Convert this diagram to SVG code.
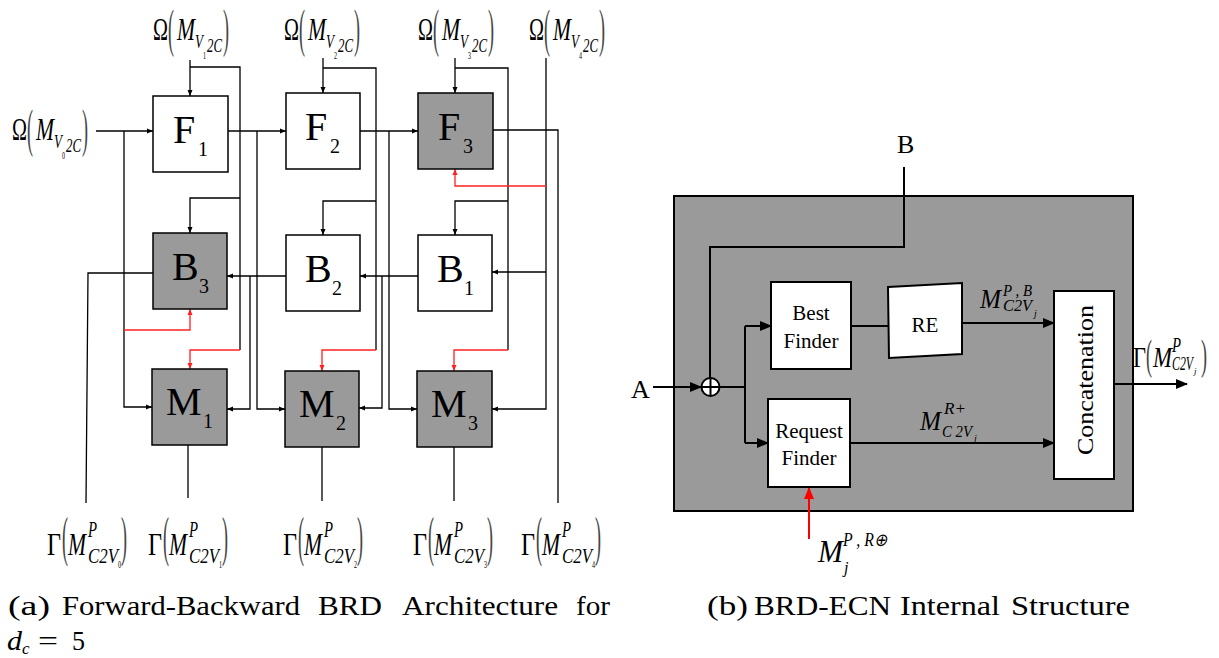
<svg xmlns="http://www.w3.org/2000/svg" width="1219" height="658" viewBox="0 0 1219 658">
<style>
.t{font-family:"Liberation Serif","Times New Roman",serif;fill:#000}
.i{font-style:italic}
.par{font-family:"Liberation Serif","Times New Roman",serif;fill:#444}
.bw{fill:#fff;stroke:#000;stroke-width:1.5}
.bg{fill:#9a9a9a;stroke:#000;stroke-width:1.5}
.w{fill:none;stroke:#000;stroke-width:1.3}
.r{fill:none;stroke:#ff2020;stroke-width:1.3}
.w2{fill:none;stroke:#000;stroke-width:2}
.r2{fill:none;stroke:#ff0000;stroke-width:2}
.bl{font-family:"Liberation Serif","Times New Roman",serif;font-size:40px}
.sb{font-family:"Liberation Serif","Times New Roman",serif;font-size:20px}
.cap{font-family:"Liberation Serif","Times New Roman",serif;font-size:27px}
</style>
<defs>
<marker id="ak" markerUnits="userSpaceOnUse" markerWidth="6" markerHeight="6" refX="6" refY="3" orient="auto"><path d="M0,0.5 L6,3 L0,5.5 z" fill="#000"/></marker>
<marker id="ar" markerUnits="userSpaceOnUse" markerWidth="6" markerHeight="6" refX="6" refY="3" orient="auto"><path d="M0,0.5 L6,3 L0,5.5 z" fill="#ff2020"/></marker>
<marker id="AK" markerUnits="userSpaceOnUse" markerWidth="12" markerHeight="12" refX="11" refY="6" orient="auto"><path d="M0,1 L12,6 L0,11 z" fill="#000"/></marker>
<marker id="AR" markerUnits="userSpaceOnUse" markerWidth="12" markerHeight="12" refX="11" refY="6" orient="auto"><path d="M0,1 L12,6 L0,11 z" fill="#ff0000"/></marker>
</defs>

<!-- ===== Left diagram (a) ===== -->
<g id="connectors-a">
<path class="w" d="M96,131 H153" marker-end="url(#ak)"/>
<path class="w" d="M124,131 V407 H152" marker-end="url(#ak)"/>
<path class="w" d="M228,131 H286" marker-end="url(#ak)"/>
<path class="w" d="M257,131 V409 H285" marker-end="url(#ak)"/>
<path class="w" d="M360,131 H418" marker-end="url(#ak)"/>
<path class="w" d="M389,131 V409 H417" marker-end="url(#ak)"/>
<path class="w" d="M493,130 H558 V503"/>
<path class="w" d="M190,60 V96" marker-end="url(#ak)"/>
<path class="w" d="M190,67 H240 V350"/>
<path class="w" d="M240,198 H190 V233" marker-end="url(#ak)"/>
<path class="w" d="M323,58 V93" marker-end="url(#ak)"/>
<path class="w" d="M323,68 H376 V350"/>
<path class="w" d="M376,201 H323 V235" marker-end="url(#ak)"/>
<path class="w" d="M455,58 V93" marker-end="url(#ak)"/>
<path class="w" d="M455,68 H508 V350"/>
<path class="w" d="M508,201 H455 V235" marker-end="url(#ak)"/>
<path class="w" d="M546,58 V409 H492" marker-end="url(#ak)"/>
<path class="w" d="M546,272 H492" marker-end="url(#ak)"/>
<path class="w" d="M418,276 H360" marker-end="url(#ak)"/>
<path class="w" d="M382,276 V408 H359" marker-end="url(#ak)"/>
<path class="w" d="M286,276 H227" marker-end="url(#ak)"/>
<path class="w" d="M250,276 V409 H227" marker-end="url(#ak)"/>
<path class="w" d="M153,273 H88 L86,503"/>
<path class="w" d="M188,445 V498"/>
<path class="w" d="M322,447 V501"/>
<path class="w" d="M454,447 V501"/>
<path class="r" d="M124,330 H190 V309" marker-end="url(#ar)"/>
<path class="r" d="M240,350 H190 V369" marker-end="url(#ar)"/>
<path class="r" d="M376,350 H322 V371" marker-end="url(#ar)"/>
<path class="r" d="M508,350 H454 V371" marker-end="url(#ar)"/>
<path class="r" d="M546,186 H455 V169" marker-end="url(#ar)"/>
</g>

<g id="F1"><rect class="bw" x="153" y="96" width="75" height="76"/><text class="bl" x="173" y="143">F</text><text class="sb" x="198" y="156">1</text></g>
<g id="F2"><rect class="bw" x="286" y="93" width="74" height="76"/><text class="bl" x="305" y="140">F</text><text class="sb" x="330" y="153">2</text></g>
<g id="F3"><rect class="bg" x="418" y="93" width="75" height="76"/><text class="bl" x="438" y="140">F</text><text class="sb" x="463" y="153">3</text></g>
<g id="B3"><rect class="bg" x="153" y="233" width="74" height="76"/><text class="bl" x="172" y="280">B</text><text class="sb" x="199" y="293">3</text></g>
<g id="B2"><rect class="bw" x="286" y="235" width="74" height="76"/><text class="bl" x="305" y="282">B</text><text class="sb" x="332" y="295">2</text></g>
<g id="B1"><rect class="bw" x="418" y="235" width="74" height="76"/><text class="bl" x="437" y="282">B</text><text class="sb" x="464" y="295">1</text></g>
<g id="M1"><rect class="bg" x="152" y="369" width="75" height="76"/><text class="bl" x="166" y="415">M</text><text class="sb" x="203" y="428">1</text></g>
<g id="M2"><rect class="bg" x="285" y="371" width="74" height="76"/><text class="bl" x="299" y="417">M</text><text class="sb" x="336" y="430">2</text></g>
<g id="M3"><rect class="bg" x="417" y="371" width="75" height="76"/><text class="bl" x="431" y="417">M</text><text class="sb" x="468" y="430">3</text></g>

<!-- Omega input labels -->
<g id="in0" transform="translate(12,140)">
<text class="t" x="0" y="0" font-size="32" textLength="15" lengthAdjust="spacingAndGlyphs">Ω</text>
<text class="par" x="15" y="6" font-size="52" textLength="6" lengthAdjust="spacingAndGlyphs">(</text>
<text class="t i" x="24" y="0" font-size="32" textLength="18" lengthAdjust="spacingAndGlyphs">M</text>
<text class="t i" x="42" y="8" font-size="18" textLength="8" lengthAdjust="spacingAndGlyphs">V</text>
<text class="t" x="50" y="19" font-size="11" textLength="3" lengthAdjust="spacingAndGlyphs">0</text>
<text class="t i" x="54" y="12" font-size="18" textLength="15" lengthAdjust="spacingAndGlyphs">2C</text>
<text class="par" x="70" y="6" font-size="52" textLength="6" lengthAdjust="spacingAndGlyphs">)</text>
</g>
<g id="in1" transform="translate(153,40)">
<text class="t" x="0" y="0" font-size="32" textLength="15" lengthAdjust="spacingAndGlyphs">Ω</text>
<text class="par" x="15" y="6" font-size="52" textLength="6" lengthAdjust="spacingAndGlyphs">(</text>
<text class="t i" x="24" y="0" font-size="32" textLength="18" lengthAdjust="spacingAndGlyphs">M</text>
<text class="t i" x="42" y="8" font-size="18" textLength="8" lengthAdjust="spacingAndGlyphs">V</text>
<text class="t" x="50" y="19" font-size="11" textLength="3" lengthAdjust="spacingAndGlyphs">1</text>
<text class="t i" x="54" y="12" font-size="18" textLength="15" lengthAdjust="spacingAndGlyphs">2C</text>
<text class="par" x="70" y="6" font-size="52" textLength="6" lengthAdjust="spacingAndGlyphs">)</text>
</g>
<g id="in2" transform="translate(284,40)">
<text class="t" x="0" y="0" font-size="32" textLength="15" lengthAdjust="spacingAndGlyphs">Ω</text>
<text class="par" x="15" y="6" font-size="52" textLength="6" lengthAdjust="spacingAndGlyphs">(</text>
<text class="t i" x="24" y="0" font-size="32" textLength="18" lengthAdjust="spacingAndGlyphs">M</text>
<text class="t i" x="42" y="8" font-size="18" textLength="8" lengthAdjust="spacingAndGlyphs">V</text>
<text class="t" x="50" y="19" font-size="11" textLength="3" lengthAdjust="spacingAndGlyphs">2</text>
<text class="t i" x="54" y="12" font-size="18" textLength="15" lengthAdjust="spacingAndGlyphs">2C</text>
<text class="par" x="70" y="6" font-size="52" textLength="6" lengthAdjust="spacingAndGlyphs">)</text>
</g>
<g id="in3" transform="translate(418,40)">
<text class="t" x="0" y="0" font-size="32" textLength="15" lengthAdjust="spacingAndGlyphs">Ω</text>
<text class="par" x="15" y="6" font-size="52" textLength="6" lengthAdjust="spacingAndGlyphs">(</text>
<text class="t i" x="24" y="0" font-size="32" textLength="18" lengthAdjust="spacingAndGlyphs">M</text>
<text class="t i" x="42" y="8" font-size="18" textLength="8" lengthAdjust="spacingAndGlyphs">V</text>
<text class="t" x="50" y="19" font-size="11" textLength="3" lengthAdjust="spacingAndGlyphs">3</text>
<text class="t i" x="54" y="12" font-size="18" textLength="15" lengthAdjust="spacingAndGlyphs">2C</text>
<text class="par" x="70" y="6" font-size="52" textLength="6" lengthAdjust="spacingAndGlyphs">)</text>
</g>
<g id="in4" transform="translate(529,40)">
<text class="t" x="0" y="0" font-size="32" textLength="15" lengthAdjust="spacingAndGlyphs">Ω</text>
<text class="par" x="15" y="6" font-size="52" textLength="6" lengthAdjust="spacingAndGlyphs">(</text>
<text class="t i" x="24" y="0" font-size="32" textLength="18" lengthAdjust="spacingAndGlyphs">M</text>
<text class="t i" x="42" y="8" font-size="18" textLength="8" lengthAdjust="spacingAndGlyphs">V</text>
<text class="t" x="50" y="19" font-size="11" textLength="3" lengthAdjust="spacingAndGlyphs">4</text>
<text class="t i" x="54" y="12" font-size="18" textLength="15" lengthAdjust="spacingAndGlyphs">2C</text>
<text class="par" x="70" y="6" font-size="52" textLength="6" lengthAdjust="spacingAndGlyphs">)</text>
</g>

<!-- Gamma output labels -->
<g id="out0" transform="translate(47,555)">
<text class="t" x="0" y="0" font-size="32" textLength="14" lengthAdjust="spacingAndGlyphs">Γ</text>
<text class="par" x="15" y="0" font-size="55" textLength="6" lengthAdjust="spacingAndGlyphs">(</text>
<text class="t i" x="21" y="0" font-size="32" textLength="18" lengthAdjust="spacingAndGlyphs">M</text>
<text class="t i" x="41" y="-18" font-size="24" textLength="9" lengthAdjust="spacingAndGlyphs">P</text>
<text class="t i" x="41" y="8" font-size="21" textLength="30" lengthAdjust="spacingAndGlyphs">C2V</text>
<text class="t" x="71" y="13" font-size="10" textLength="3" lengthAdjust="spacingAndGlyphs">0</text>
<text class="par" x="74" y="0" font-size="55" textLength="6" lengthAdjust="spacingAndGlyphs">)</text>
</g>
<g id="out1" transform="translate(148,555)">
<text class="t" x="0" y="0" font-size="32" textLength="14" lengthAdjust="spacingAndGlyphs">Γ</text>
<text class="par" x="15" y="0" font-size="55" textLength="6" lengthAdjust="spacingAndGlyphs">(</text>
<text class="t i" x="21" y="0" font-size="32" textLength="18" lengthAdjust="spacingAndGlyphs">M</text>
<text class="t i" x="41" y="-18" font-size="24" textLength="9" lengthAdjust="spacingAndGlyphs">P</text>
<text class="t i" x="41" y="8" font-size="21" textLength="30" lengthAdjust="spacingAndGlyphs">C2V</text>
<text class="t" x="71" y="13" font-size="10" textLength="3" lengthAdjust="spacingAndGlyphs">1</text>
<text class="par" x="74" y="0" font-size="55" textLength="6" lengthAdjust="spacingAndGlyphs">)</text>
</g>
<g id="out2" transform="translate(283,555)">
<text class="t" x="0" y="0" font-size="32" textLength="14" lengthAdjust="spacingAndGlyphs">Γ</text>
<text class="par" x="15" y="0" font-size="55" textLength="6" lengthAdjust="spacingAndGlyphs">(</text>
<text class="t i" x="21" y="0" font-size="32" textLength="18" lengthAdjust="spacingAndGlyphs">M</text>
<text class="t i" x="41" y="-18" font-size="24" textLength="9" lengthAdjust="spacingAndGlyphs">P</text>
<text class="t i" x="41" y="8" font-size="21" textLength="30" lengthAdjust="spacingAndGlyphs">C2V</text>
<text class="t" x="71" y="13" font-size="10" textLength="3" lengthAdjust="spacingAndGlyphs">2</text>
<text class="par" x="74" y="0" font-size="55" textLength="6" lengthAdjust="spacingAndGlyphs">)</text>
</g>
<g id="out3" transform="translate(413,555)">
<text class="t" x="0" y="0" font-size="32" textLength="14" lengthAdjust="spacingAndGlyphs">Γ</text>
<text class="par" x="15" y="0" font-size="55" textLength="6" lengthAdjust="spacingAndGlyphs">(</text>
<text class="t i" x="21" y="0" font-size="32" textLength="18" lengthAdjust="spacingAndGlyphs">M</text>
<text class="t i" x="41" y="-18" font-size="24" textLength="9" lengthAdjust="spacingAndGlyphs">P</text>
<text class="t i" x="41" y="8" font-size="21" textLength="30" lengthAdjust="spacingAndGlyphs">C2V</text>
<text class="t" x="71" y="13" font-size="10" textLength="3" lengthAdjust="spacingAndGlyphs">3</text>
<text class="par" x="74" y="0" font-size="55" textLength="6" lengthAdjust="spacingAndGlyphs">)</text>
</g>
<g id="out4" transform="translate(521,555)">
<text class="t" x="0" y="0" font-size="32" textLength="14" lengthAdjust="spacingAndGlyphs">Γ</text>
<text class="par" x="15" y="0" font-size="55" textLength="6" lengthAdjust="spacingAndGlyphs">(</text>
<text class="t i" x="21" y="0" font-size="32" textLength="18" lengthAdjust="spacingAndGlyphs">M</text>
<text class="t i" x="41" y="-18" font-size="24" textLength="9" lengthAdjust="spacingAndGlyphs">P</text>
<text class="t i" x="41" y="8" font-size="21" textLength="30" lengthAdjust="spacingAndGlyphs">C2V</text>
<text class="t" x="71" y="13" font-size="10" textLength="3" lengthAdjust="spacingAndGlyphs">4</text>
<text class="par" x="74" y="0" font-size="55" textLength="6" lengthAdjust="spacingAndGlyphs">)</text>
</g>

<g id="caption-a">
<text class="cap" x="8" y="615" textLength="42" lengthAdjust="spacingAndGlyphs">(a)</text>
<text class="cap" x="62" y="615" textLength="238" lengthAdjust="spacingAndGlyphs">Forward-Backward</text>
<text class="cap" x="318" y="615" textLength="64" lengthAdjust="spacingAndGlyphs">BRD</text>
<text class="cap" x="402" y="615" textLength="156" lengthAdjust="spacingAndGlyphs">Architecture</text>
<text class="cap" x="576" y="615" textLength="34" lengthAdjust="spacingAndGlyphs">for</text>
<text class="cap i" x="7" y="650" textLength="15" lengthAdjust="spacingAndGlyphs">d</text>
<text class="t i" x="22" y="654" font-size="17">c</text>
<text class="cap" x="38" y="650" textLength="20" lengthAdjust="spacingAndGlyphs">=</text>
<text class="cap" x="72" y="650" textLength="13" lengthAdjust="spacingAndGlyphs">5</text>
</g>

<!-- ===== Right diagram (b) ===== -->
<g id="ECN"><rect x="674" y="196" width="459" height="315" fill="#9a9a9a" stroke="#000" stroke-width="2"/></g>

<g id="connectors-b">
<path class="w2" d="M904,167 V247 H710 V378"/>
<path class="w2" d="M653,387 H701" marker-end="url(#AK)"/>
<path class="w2" d="M720,387 H745"/>
<path class="w2" d="M745,326 V443"/>
<path class="w2" d="M745,326 H771" marker-end="url(#AK)"/>
<path class="w2" d="M745,443 H768" marker-end="url(#AK)"/>
<path class="w2" d="M851,326 H888"/>
<path class="w2" d="M962,323 H1054" marker-end="url(#AK)"/>
<path class="w2" d="M850,443 H1054" marker-end="url(#AK)"/>
<path class="w2" d="M1114,384 H1187" marker-end="url(#AK)"/>
<path class="r2" d="M809,539 V488" marker-end="url(#AR)"/>
</g>

<g id="adder"><circle cx="710.5" cy="387" r="9" fill="#fff" stroke="#000" stroke-width="2"/><path d="M701.5,387 H719.5 M710.5,378 V396" stroke="#000" stroke-width="2" fill="none"/></g>
<g id="labelA"><text class="t" x="631" y="398" font-size="26">A</text></g>
<g id="labelB"><text class="t" x="897" y="153" font-size="26">B</text></g>

<g id="BestFinder"><rect x="771" y="282" width="80" height="87" fill="#fff" stroke="#000" stroke-width="2"/>
<text class="t" x="811" y="320" font-size="21" text-anchor="middle">Best</text>
<text class="t" x="811" y="348" font-size="21" text-anchor="middle">Finder</text></g>

<g id="RE"><polygon points="888,287 962,283 962,354 889,358" fill="#fff" stroke="#000" stroke-width="2"/>
<text class="t" x="925" y="332" font-size="21" text-anchor="middle">RE</text></g>

<g id="RequestFinder"><rect x="768" y="399" width="82" height="88" fill="#fff" stroke="#000" stroke-width="2"/>
<text class="t" x="809" y="438" font-size="21" text-anchor="middle">Request</text>
<text class="t" x="809" y="465" font-size="21" text-anchor="middle">Finder</text></g>

<g id="Concatenation"><rect x="1054" y="291" width="60" height="188" fill="#fff" stroke="#000" stroke-width="2"/>
<text class="t" transform="translate(1093,380) rotate(-90)" x="0" y="0" font-size="24" text-anchor="middle" textLength="150" lengthAdjust="spacingAndGlyphs">Concatenation</text></g>

<g id="lblPB">
<text class="t i" x="980" y="308" font-size="28" textLength="21" lengthAdjust="spacingAndGlyphs">M</text>
<text class="t i" x="1003" y="296" font-size="16" textLength="29" lengthAdjust="spacingAndGlyphs">P , B</text>
<text class="t i" x="1003" y="311" font-size="16" textLength="29" lengthAdjust="spacingAndGlyphs">C2V</text>
<text class="t i" x="1034" y="317" font-size="10">j</text>
</g>
<g id="lblR">
<text class="t i" x="920" y="430" font-size="28" textLength="21" lengthAdjust="spacingAndGlyphs">M</text>
<text class="t i" x="944" y="414" font-size="16" textLength="22" lengthAdjust="spacingAndGlyphs">R+</text>
<text class="t i" x="942" y="437" font-size="16" textLength="30" lengthAdjust="spacingAndGlyphs">C 2V</text>
<text class="t i" x="974" y="442" font-size="10">j</text>
</g>
<g id="lblOut">
<text class="t" x="1133" y="367" font-size="30" textLength="13" lengthAdjust="spacingAndGlyphs">Γ</text>
<text class="par" x="1146" y="369" font-size="42" textLength="6" lengthAdjust="spacingAndGlyphs">(</text>
<text class="t i" x="1153" y="367" font-size="30" textLength="19" lengthAdjust="spacingAndGlyphs">M</text>
<text class="t i" x="1172" y="352" font-size="20" textLength="9" lengthAdjust="spacingAndGlyphs">P</text>
<text class="t i" x="1172" y="370" font-size="18" textLength="21" lengthAdjust="spacingAndGlyphs">C2V</text>
<text class="t i" x="1194" y="374" font-size="9">j</text>
<text class="par" x="1201" y="369" font-size="42" textLength="6" lengthAdjust="spacingAndGlyphs">)</text>
</g>
<g id="lblMj">
<text class="t i" x="818" y="562" font-size="32" textLength="25" lengthAdjust="spacingAndGlyphs">M</text>
<text class="t i" x="843" y="546" font-size="18" textLength="44" lengthAdjust="spacingAndGlyphs">P , R⊕</text>
<text class="t i" x="844" y="573" font-size="16">j</text>
</g>

<g id="caption-b">
<text class="cap" x="707" y="615" textLength="41" lengthAdjust="spacingAndGlyphs">(b)</text>
<text class="cap" x="754" y="615" textLength="137" lengthAdjust="spacingAndGlyphs">BRD-ECN</text>
<text class="cap" x="900" y="615" textLength="100" lengthAdjust="spacingAndGlyphs">Internal</text>
<text class="cap" x="1011" y="615" textLength="119" lengthAdjust="spacingAndGlyphs">Structure</text>
</g>
</svg>
